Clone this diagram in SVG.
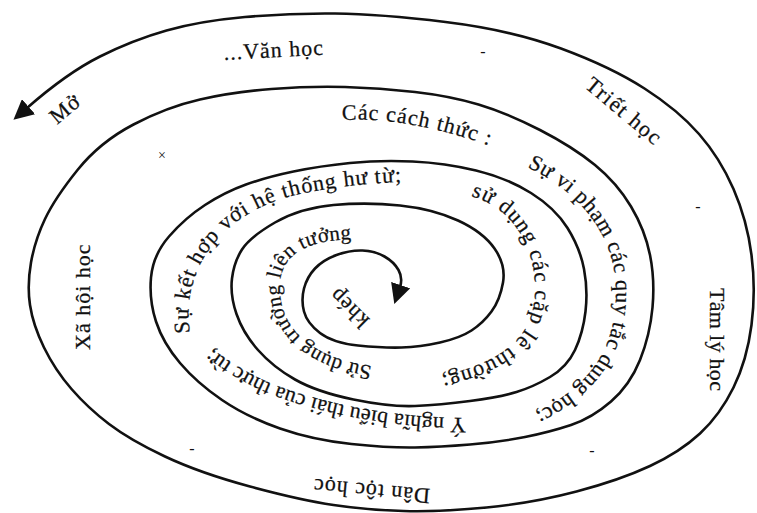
<svg xmlns="http://www.w3.org/2000/svg" width="757" height="513" viewBox="0 0 757 513">
<style>
.t{font-family:"Liberation Serif","Times New Roman",serif;font-size:22px;fill:#111;stroke:#111;stroke-width:0.25;letter-spacing:1px}
.sm{font-family:"Liberation Serif","Times New Roman",serif;font-size:16px;fill:#111}
.sp{fill:none;stroke:#111;stroke-width:2.6;stroke-linecap:round;stroke-linejoin:round}
</style>
<defs>
<marker id="ah" markerUnits="userSpaceOnUse" markerWidth="20" markerHeight="20" viewBox="0 0 10 10" refX="1" refY="5" orient="auto-start-reverse"><path d="M0,0 L10,5 L0,10 z" fill="#111"/></marker>
<path id="g1" d="M342,120 Q415,116 512,154"/>
<path id="g2" d="M527,167 C585,195 617,240 616,295 C615,350 590,390 520,420"/>
<path id="g3" d="M471,196 C512,208 535,245 535,290 C535,335 505,362 440,376"/>
<path id="g4" d="M190,333 C180,262 228,210 300,194 C345,185 372,183 420,181"/>
<path id="g5" d="M372,366 C325,360 283,338 280,293 C277,255 305,239 360,239 L400,239"/>
<path id="g6" d="M466,418 C400,418 330,405 283,388 C250,376 225,360 195,335"/>
</defs>
<rect width="757" height="513" fill="#fff"/>
<g id="connectors">
<path class="sp" marker-start="url(#ah)" marker-end="url(#ah)" d="M27,108 Q67,73 100,56.5 Q133,40 166.5,30.5 Q200,21 245,17 Q290,13 335,13.5 Q380,14 445.5,22 Q511,30 561,48.5 Q611,67 644.5,88.5 Q678,110 699,134 Q720,158 733.5,189 Q747,220 751.5,255 Q756,290 751.5,325 Q747,360 733.5,387.5 Q720,415 700,433.5 Q680,452 650,466 Q620,480 576.5,491.5 Q533,503 486.5,507.5 Q440,512 403.5,511 Q367,510 333.5,505 Q300,500 250,486.5 Q200,473 165,456.5 Q130,440 109,424 Q88,408 71.5,389 Q55,370 44,347.5 Q33,325 30,305 Q27,285 31,262.5 Q35,240 45,219 Q55,198 77.5,170 Q100,142 133.5,124.5 Q167,107 200,99.5 Q233,92 271.5,89 Q310,86 345,87 Q380,88 415,92 Q450,96 478.5,104.5 Q507,113 540,130 Q573,147 595,165 Q617,183 631,206.5 Q645,230 650,255 Q655,280 652.5,307.5 Q650,335 640,360 Q630,385 611,401.5 Q592,418 571,425 Q550,432 525,437 Q500,442 470,444.5 Q440,447 415,447.5 Q390,448 351.5,444 Q313,440 280,428.5 Q247,417 222,400 Q197,383 180,363 Q163,343 156,321.5 Q149,300 151,277.5 Q153,255 169,236.5 Q185,218 205,205 Q225,192 246,184.5 Q267,177 293.5,171.5 Q320,166 350,163 Q380,160 412.5,161.5 Q445,163 476,170.5 Q507,178 531,193 Q555,208 567.5,228 Q580,248 584,269 Q588,290 585.5,311.5 Q583,333 575,350 Q567,367 550,377 Q533,387 516.5,392 Q500,397 470,401 Q440,405 415,406 Q390,407 353.5,399.5 Q317,392 295,379.5 Q273,367 258,350 Q243,333 236.5,314 Q230,295 232,278.5 Q234,262 242,249.5 Q250,237 275,222.5 Q300,208 333.5,205 Q367,202 400,205.5 Q433,209 458,220.5 Q483,232 494.5,248.5 Q506,265 503,282.5 Q500,300 491.5,311.5 Q483,323 471.5,330.5 Q460,338 440,342.5 Q420,347 401.5,347.5 Q383,348 358,345.5 Q333,343 320,333 Q307,323 304,311.5 Q301,300 304,288.5 Q307,277 315,268.5 Q323,260 336.5,255 Q350,250 362.5,250.5 Q375,251 384.5,256.5 Q394,262 398.5,270 Q403,278 400,287"/>
</g>
<g id="node-mo"><text class="t" transform="translate(57,125) rotate(-40)">Mở</text></g>
<g id="node-vanhoc"><text class="t" transform="translate(224,60) rotate(-3)">...Văn học</text></g>
<g id="node-triethoc"><text class="t" style="letter-spacing:1.5px" transform="translate(584,87) rotate(40)">Triết học</text></g>
<g id="node-tamlyhoc"><text class="t" style="letter-spacing:0.3px" transform="translate(710,288) rotate(90)">Tâm lý học</text></g>
<g id="node-xahoihoc"><text class="t" transform="translate(90,350) rotate(-90)">Xã hội học</text></g>
<g id="node-dantochoc"><text class="t" text-anchor="middle" transform="translate(372,484) rotate(185)">Dân tộc học</text></g>
<g id="node-cachthuc"><text class="t"><textPath href="#g1">Các cách thức :</textPath></text></g>
<g id="node-vipham"><text class="t" style="letter-spacing:0.6px"><textPath href="#g2">Sự vi phạm các quy tắc dụng học;</textPath></text></g>
<g id="node-capleth"><text class="t"><textPath href="#g3">sử dụng các cặp lê thường;</textPath></text></g>
<g id="node-kethop"><text class="t"><textPath href="#g4">Sự kết hợp với hệ thống hư từ;</textPath></text></g>
<g id="node-lientuong"><text class="t" style="font-size:21px;letter-spacing:0.3px"><textPath href="#g5">Sử dụng trường liên tưởng</textPath></text></g>
<g id="node-ynghia"><text class="t" style="letter-spacing:0.2px"><textPath href="#g6">Ý nghĩa biểu thái của thực từ;</textPath></text></g>
<g id="node-khep"><text class="t" text-anchor="middle" transform="translate(354,303) rotate(225)">khép</text></g>
<g id="marks">
<text class="sm" text-anchor="middle" x="483" y="57">-</text>
<text class="sm" text-anchor="middle" x="698" y="212">-</text>
<text class="sm" text-anchor="middle" x="192" y="454">-</text>
<text class="sm" text-anchor="middle" x="592" y="456">-</text>
<text class="sm" text-anchor="middle" x="162" y="160" style="font-size:14px">×</text>
</g>
</svg>
